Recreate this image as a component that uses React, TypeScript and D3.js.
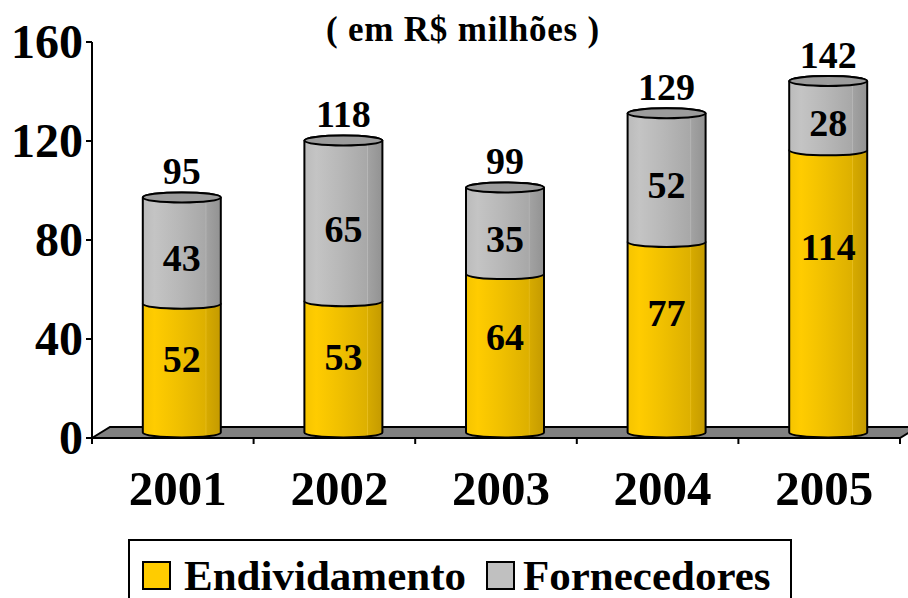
import React from "react";
import * as d3 from "d3";

const years: string[] = ["2001", "2002", "2003", "2004", "2005"];
const endividamento: number[] = [52, 53, 64, 77, 114];
const fornecedores: number[] = [43, 65, 35, 52, 28];
const totals: number[] = [95, 118, 99, 129, 142];
const yTicks: number[] = [0, 40, 80, 120, 160];
const seriesNames: string[] = ["Endividamento", "Fornecedores"];

const FONT = "'Liberation Serif', 'Times New Roman', serif";

const App = (): React.JSX.Element => {
  const width = 908;
  const height = 598;
  const left = 92;
  const right = 900;
  const base = 438;
  const top = 42;
  const depthX = 18;
  const depthY = -11;
  const rx = 39;
  const ry = 5;

  const x = d3.scaleBand<string>().domain(years).range([left, right]).paddingInner(0).paddingOuter(0);
  const y = d3.scaleLinear([0, 160], [base, top]);

  // cylinders stand in the middle of the floor depth
  const cx = (yr: string): number => (x(yr) as number) + x.bandwidth() / 2 + depthX / 2;
  const cy = (v: number): number => y(v) + depthY / 2;

  const body = (c: number, v0: number, v1: number): string => {
    const yb = cy(v0);
    const yt = cy(v1);
    return `M${c - rx},${yt} L${c - rx},${yb} A${rx},${ry} 0 0 0 ${c + rx},${yb} L${c + rx},${yt} A${rx},${ry} 0 0 0 ${c - rx},${yt} Z`;
  };

  const stack = d3.stack<number>().keys([0, 1]).value((i: number, k: number) => (k === 0 ? endividamento[i] : fornecedores[i]));
  const layers = stack(years.map((_d, i) => i));
  const fills = ["url(#gradYellow)", "url(#gradGray)"];

  // excel puts the 3d labels a bit off the segment middle
  const labelValue = (k: number, v0: number, v1: number): number =>
    k === 0 ? v0 + (v1 - v0) * 0.73 - 8 : (v0 + v1) / 2 - 3;

  return (
    <svg width={width} height={height} style={{ position: "absolute", left: 0, top: 0, background: "#fff" }} fontFamily={FONT}>
      <defs>
        <linearGradient id="gradYellow" x1="0" x2="1" y1="0" y2="0">
          <stop offset="0%" stopColor="#F5C400" />
          <stop offset="15%" stopColor="#FFCC00" />
          <stop offset="45%" stopColor="#F0C000" />
          <stop offset="80%" stopColor="#DDB000" />
          <stop offset="81%" stopColor="#E8BE20" />
          <stop offset="82%" stopColor="#D6AA00" />
          <stop offset="100%" stopColor="#C49A00" />
        </linearGradient>
        <linearGradient id="gradGray" x1="0" x2="1" y1="0" y2="0">
          <stop offset="0%" stopColor="#BBBBBB" />
          <stop offset="15%" stopColor="#C4C4C4" />
          <stop offset="45%" stopColor="#B8B8B8" />
          <stop offset="80%" stopColor="#A8A8A8" />
          <stop offset="81%" stopColor="#B8B8B8" />
          <stop offset="82%" stopColor="#A2A2A2" />
          <stop offset="100%" stopColor="#929292" />
        </linearGradient>
      </defs>

      {/* title */}
      <text x={463} y={41} textAnchor="middle" fontSize={35} fontWeight="bold" letterSpacing={0.8}>
        ( em R$ milhões )
      </text>

      {/* floor */}
      <path
        d={`M${left},${base} L${left + depthX},${base + depthY} L${right + depthX},${base + depthY} L${right},${base} Z`}
        fill="#808080"
        stroke="#000"
        strokeWidth={2}
      />

      {/* value axis */}
      <line x1={left} x2={left} y1={top} y2={base + 5} stroke="#000" strokeWidth={2} />
      {yTicks.map((t) => (
        <g key={t}>
          <line x1={left - 6} x2={left} y1={y(t)} y2={y(t)} stroke="#000" strokeWidth={2} />
          <text x={left - 9} y={y(t)} dy="0.34em" textAnchor="end" fontSize={48} fontWeight="bold">
            {t}
          </text>
        </g>
      ))}

      {/* category ticks */}
      {years.map((yr) => (
        <line key={yr} x1={x(yr)} x2={x(yr)} y1={base} y2={base + 6} stroke="#000" strokeWidth={2} />
      ))}
      <line x1={right} x2={right} y1={base} y2={base + 6} stroke="#000" strokeWidth={2} />

      {/* cylinders */}
      {years.map((yr, i) => {
        const c = cx(yr);
        return (
          <g key={yr}>
            {layers.map((layer, k) => (
              <path key={k} d={body(c, layer[i][0], layer[i][1])} fill={fills[k]} stroke="#000" strokeWidth={2} />
            ))}
            <ellipse cx={c} cy={cy(totals[i])} rx={rx} ry={ry} fill="#9C9C9C" stroke="#000" strokeWidth={2} />
            {layers.map((layer, k) => (
              <text
                key={`l${k}`}
                x={c}
                y={cy(labelValue(k, layer[i][0], layer[i][1]))}
                dy="0.35em"
                textAnchor="middle"
                fontSize={38}
                fontWeight="bold"
              >
                {layer[i][1] - layer[i][0]}
              </text>
            ))}
            <text x={c} y={cy(totals[i]) - 13} textAnchor="middle" fontSize={38} fontWeight="bold">
              {totals[i]}
            </text>
            <text x={(x(yr) as number) + x.bandwidth() / 2 + 5} y={505} textAnchor="middle" fontSize={49} fontWeight="bold">
              {yr}
            </text>
          </g>
        );
      })}

      {/* legend */}
      <rect x={129} y={540} width={662} height={80} fill="#fff" stroke="#000" strokeWidth={2} />
      <rect x={143} y={562} width={27} height={27} fill="#FFCC00" stroke="#000" strokeWidth={2} />
      <text x={184} y={590} fontSize={43} fontWeight="bold">
        {seriesNames[0]}
      </text>
      <rect x={487} y={562} width={27} height={27} fill="#C0C0C0" stroke="#000" strokeWidth={2} />
      <text x={523} y={590} fontSize={43} fontWeight="bold">
        {seriesNames[1]}
      </text>
    </svg>
  );
};

export default App;
